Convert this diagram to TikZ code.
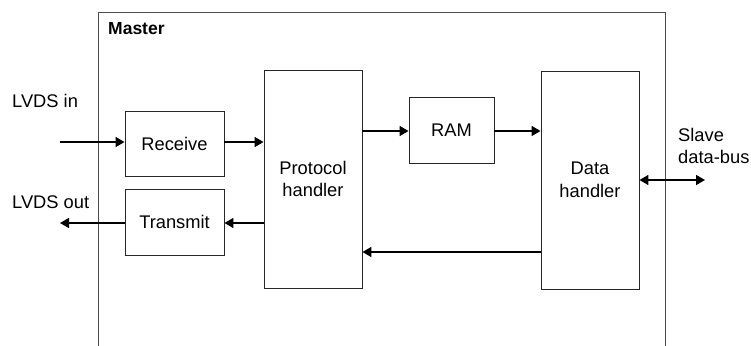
\documentclass[tikz,border=0pt]{standalone}
\usepackage{fontspec}
\setmainfont{Liberation Sans}
\usetikzlibrary{arrows.meta}
\begin{document}
\begin{tikzpicture}[x=1pt,y=-1pt,
  blk/.style={draw=black!85,line width=0.9pt,minimum width=#1,inner sep=0pt,font=\fontsize{18.3}{22.5}\selectfont,align=center},
  conn/.style={line width=1.6pt,-{Triangle[length=9pt,width=10pt]}},
  lbl/.style={font=\fontsize{18.3}{22.5}\selectfont,align=left,inner sep=0pt}]
\useasboundingbox (0,0) rectangle (751,345);
% master frame (open at the bottom)
\draw[black!70,line width=0.9pt] (98,346) -- (98,12) -- (665,12) -- (665,346);
\node[anchor=north west,inner sep=0pt,font=\fontsize{17.5}{20}\selectfont\bfseries] (master) at (108,22) {Master};
% blocks
\node[blk=99pt,minimum height=65pt] (rx) at (174.5,143.5) {Receive};
\node[blk=99pt,minimum height=66pt] (tx) at (174.5,222) {Transmit};
\node[blk=98pt,minimum height=218pt] (ph) at (313,179) {Protocol\\handler};
\node[blk=85pt,minimum height=66pt] (ram) at (451.5,130) {RAM};
\node[blk=98pt,minimum height=218pt] (dh) at (590,180) {Data\\handler};
% external labels
\node[lbl,anchor=west] (lin) at (12,101) {LVDS in};
\node[lbl,anchor=west] (lout) at (12,202) {LVDS out};
\node[lbl,anchor=west] (bus) at (678,146) {Slave\\data-bus};
\coordinate (inS) at (60,142);
\coordinate (outE) at (60,223);
\coordinate (busE) at (705,180);
% connectors
\draw[conn] (inS) -- (rx.west |- inS);
\draw[conn] (rx.east |- inS) -- (ph.west |- inS);
\draw[conn] (ph.west |- outE) -- (tx.east |- outE);
\draw[conn] (tx.west |- outE) -- (outE);
\draw[conn] (ph.east |- 0,131) -- (ram.west |- 0,131);
\draw[conn] (ram.east |- 0,131) -- (dh.west |- 0,131);
\draw[conn] (dh.west |- 0,252) -- (ph.east |- 0,252);
\draw[line width=1.6pt,{Triangle[length=9pt,width=10pt]}-{Triangle[length=9pt,width=10pt]}] (dh.east |- busE) -- (busE);
\end{tikzpicture}
\end{document}
